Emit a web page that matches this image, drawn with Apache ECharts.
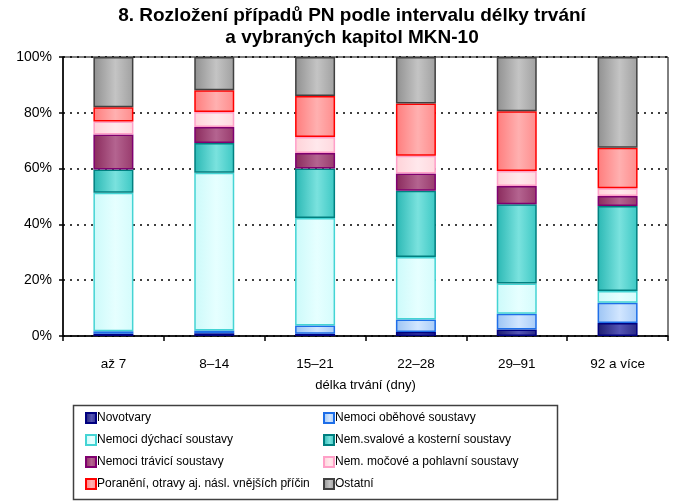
<!DOCTYPE html>
<html><head><meta charset="utf-8">
<script src="https://cdn.jsdelivr.net/npm/echarts@6/dist/echarts.min.js"></script>
<style>html,body{margin:0;padding:0;background:#fff}#c{width:689px;height:501px}</style>
</head><body><div id="c"></div>
<script>
var categories = ['až 7', '8–14', '15–21', '22–28', '29–91', '92 a více'];
var yTicks = [0, 20, 40, 60, 80, 100];
var novotvary = [0.8, 1.0, 0.8, 1.4, 2.3, 4.7];
var obehove = [0.9, 1.0, 3.0, 4.5, 5.7, 7.2];
var dychaci = [49.6, 56.5, 38.5, 22.4, 10.8, 4.2];
var svalove = [8.4, 10.7, 17.7, 23.8, 28.4, 30.5];
var travici = [12.5, 5.7, 5.6, 6.1, 6.6, 3.6];
var mocove = [4.7, 5.4, 5.7, 6.4, 5.3, 2.8];
var poraneni = [5.1, 7.8, 14.7, 18.7, 21.5, 14.5];
var ostatni = [18.0, 11.9, 14.0, 16.7, 19.4, 32.5];

var names = ['Novotvary', 'Nemoci oběhové soustavy', 'Nemoci dýchací soustavy', 'Nem.svalové a kosterní soustavy',
  'Nemoci trávicí soustavy', 'Nem. močové a pohlavní soustavy', 'Poranění, otravy aj. násl. vnějších příčin', 'Ostatní'];
var values = [novotvary, obehove, dychaci, svalove, travici, mocove, poraneni, ostatni];
var styles = [
  {a: '#1c1c70', b: '#5454b4', c: '#2a2a86', border: '#000080'},
  {a: '#9cc4f4', b: '#d2e6ff', c: '#a8ccf8', border: '#1e6ee8'},
  {a: '#ccfafa', b: '#e6ffff', c: '#d4fcfc', border: '#44d4d4'},
  {a: '#2ab8b4', b: '#7ae2de', c: '#3cc8c4', border: '#008080'},
  {a: '#8a2a5c', b: '#b46490', c: '#983a6c', border: '#800070'},
  {a: '#ffd2d8', b: '#ffe8ec', c: '#ffd8de', border: '#ffa0c8'},
  {a: '#ff7c7c', b: '#ffb0b0', c: '#ff8c8c', border: '#ff0000'},
  {a: '#909090', b: '#c4c4c4', c: '#a0a0a0', border: '#404040'}
];

var series = names.map(function (n, i) {
  var s = styles[i];
  return {
    name: n, type: 'bar', stack: 'total', barWidth: 40,
    data: values[i],
    itemStyle: {
      color: {type: 'linear', x: 0, y: 0, x2: 1, y2: 0,
        colorStops: [{offset: 0, color: s.a}, {offset: 0.55, color: s.b}, {offset: 1, color: s.c}]},
      borderColor: s.border, borderWidth: 1.5
    },
    emphasis: {disabled: true}
  };
});

var legendCommon = {
  orient: 'vertical', itemWidth: 10, itemHeight: 10, itemGap: 10, icon: 'rect', height: 100,
  textStyle: {fontFamily: 'Liberation Sans, Arial', fontSize: 12, color: '#000', padding: [0, 0, 0, -4]},
  selectedMode: false
};

var chart = echarts.init(document.getElementById('c'), null, {renderer: 'canvas'});
chart.setOption({
  animation: false,
  title: {
    text: '8. Rozložení případů PN podle intervalu délky trvání\na vybraných kapitol MKN-10',
    left: 347, textAlign: 'center', top: 0,
    textStyle: {fontFamily: 'Liberation Sans, Arial', fontSize: 19, fontWeight: 'bold', color: '#000', lineHeight: 22}
  },
  grid: {left: 63, right: 21, top: 57, bottom: 165, show: true, borderColor: '#000', borderWidth: 1, backgroundColor: 'transparent'},
  xAxis: {
    type: 'category', data: categories,
    name: 'délka trvání (dny)', nameLocation: 'middle', nameGap: 43,
    nameTextStyle: {fontFamily: 'Liberation Sans, Arial', fontSize: 13, color: '#000'},
    axisLine: {lineStyle: {color: '#000', width: 1.5}},
    axisTick: {show: true, length: 5, lineStyle: {color: '#000', width: 1.5}},
    axisLabel: {fontFamily: 'Liberation Sans, Arial', fontSize: 13.5, color: '#000', margin: 21}
  },
  yAxis: {
    type: 'value', min: 0, max: 100, interval: 20,
    axisLine: {show: true, lineStyle: {color: '#000', width: 1.5}},
    axisTick: {show: true, length: 4, lineStyle: {color: '#000', width: 1.5}},
    axisLabel: {fontFamily: 'Liberation Sans, Arial', fontSize: 14, color: '#000', margin: 11,
      formatter: function (v) { return yTicks.indexOf(v) >= 0 ? v + '%' : ''; }},
    splitLine: {show: true, lineStyle: {color: '#000', width: 1.5, type: [2, 5]}}
  },
  legend: [
    Object.assign({left: 80, top: 407, data: [names[0], names[2], names[4], names[6]]}, legendCommon),
    Object.assign({left: 318, top: 407, data: [names[1], names[3], names[5], names[7]]}, legendCommon)
  ],
  graphic: [{
    type: 'rect', left: 71, top: 403, shape: {width: 484, height: 94},
    style: {fill: 'none', stroke: '#404040', lineWidth: 1.5}, silent: true
  }],
  series: series
});
</script>
</body></html>
